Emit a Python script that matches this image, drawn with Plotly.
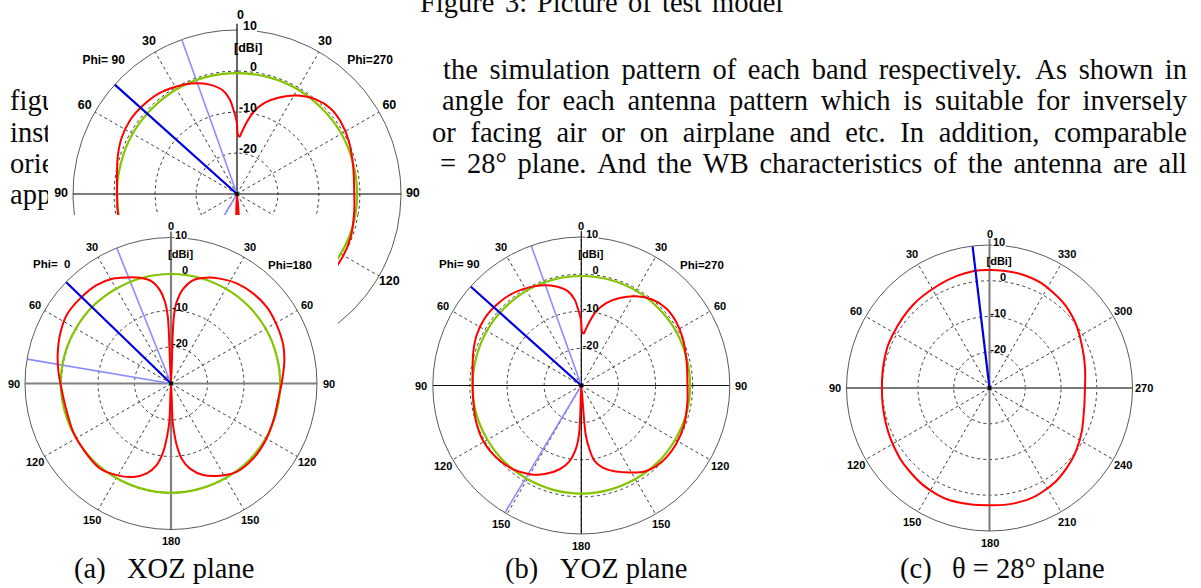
import math
import numpy as np
import plotly.graph_objects as go

W, H = 1201, 588

# ------------------------------------------------------------------
# DATA - gain in dBi versus angle in degrees
# ------------------------------------------------------------------
# (a) XOZ plane: left half = Phi 0, right half = Phi 180 (theta 0 at top)
xoz_phi0_theta = [0, 2.4, 2.8, 4.2, 6.7, 10.7, 16.4, 22.7, 28.8, 37.1, 47.0, 56.8, 66.5, 76.0,
                  84.1, 90.9, 101.6, 116.3, 128.5, 140.1, 149.3, 158.0, 164.9, 170.0, 173.6,
                  175.9, 177.5, 180]
xoz_phi0_gain = [-30, -16.7, -11.3, -7.6, -4.3, -1.5, 0.2, 1.5, 2.8, 3.8, 4.1, 4.2, 3.2, 2.0,
                 1.0, 0.2, -0.4, -0.1, 0.1, 0.35, -0.8, -2.4, -4.5, -7.3, -11.2, -15.8, -19.5, -30]
xoz_phi180_theta = [177.5, 176.4, 174.7, 171.9, 167.4, 160.6, 152.0, 143.4, 132.3, 119.9, 108.8,
                    98.0, 90.0, 79.2, 71.2, 61.1, 51.3, 42.5, 33.3, 25.0, 18.6, 12.2, 7.4, 4.0,
                    2.5, 2.0, 0]
xoz_phi180_gain = [-19.5, -16.7, -13.0, -9.2, -6.1, -3.4, -1.4, 0.15, 0.5, 0.2, -0.2, -0.3, 0.3,
                   1.6, 2.5, 3.1, 3.6, 3.4, 2.8, 1.7, 0.6, -1.0, -3.8, -7.6, -11.3, -16.7, -30]
xoz_total_theta = [0, 15, 30, 45, 60, 75, 90, 105, 120, 135, 150, 165, 180, 195, 210, 225, 240,
                   255, 270, 285, 300, 315, 330, 345, 360]
xoz_total_gain = [0.0, 0.0, 0.0, 0.1, 0.1, 0.2, 0.2, 0.1, 0.0, 0.0, -0.1, -0.1, -0.05, -0.1,
                  -0.1, 0.0, 0.0, -0.1, -0.1, -0.1, 0.0, 0.0, 0.0, 0.0, 0.0]
xoz_main_beam = 46.0
xoz_beam_edges = [21.8, 80.4]

# (b) YOZ plane: left half = Phi 90, right half = Phi 270
yoz_phi90_theta = [0, 1.0, 2.5, 4.4, 8.0, 14.1, 22.6, 29.4, 38.2, 46.4, 55.0, 64.1, 72.4, 80.8,
                   90.0, 98.2, 108.6, 119.5, 130.4, 140.9, 149.9, 157.6, 165.5, 171.2, 175.4,
                   177.3, 178.0, 180]
yoz_phi90_gain = [-12.9, -11.2, -9.3, -6.8, -4.4, -2.5, -0.8, 0.1, 1.1, 1.5, 1.7, 1.3, 0.5, -0.35,
                  -0.75, -0.6, -0.05, 0.35, 0.0, -0.9, -2.4, -4.2, -6.7, -9.4, -13.2, -16.8,
                  -22.2, -30]
yoz_phi270_theta = [175.4, 174.9, 173.0, 170.0, 163.4, 151.0, 142.8, 132.8, 121.8, 110.7, 98.4,
                    90.0, 77.0, 64.9, 55.9, 47.6, 39.8, 31.6, 23.6, 16.8, 11.4, 7.4, 4.4, 2.6,
                    0.7, 0]
yoz_phi270_gain = [-22.2, -16.8, -13.1, -9.4, -6.5, -3.2, -1.1, -0.1, 0.0, -0.35, -1.1, -1.4,
                   -0.9, 0.15, 0.8, 0.9, 0.05, -1.8, -4.3, -6.8, -9.6, -12.6, -14.9, -16.0,
                   -15.4, -12.9]
yoz_total_theta = xoz_total_theta
yoz_total_gain = [-0.5, -0.5, -0.5, -0.6, -0.6, -0.7, -0.7, -0.7, -0.8, -0.8, -0.9, -0.9, -0.9,
                  -0.9, -0.9, -0.8, -0.8, -0.7, -0.7, -0.7, -0.6, -0.6, -0.5, -0.5, -0.5]
yoz_main_beam = 48.2
yoz_beam_edges = [19.7, 149.0]

# (c) theta = 28 deg plane: phi counter-clockwise from top
p28_phi = [0, 8, 16.5, 25.7, 42.5, 61, 74, 90, 106, 120.5, 136.3, 153.6, 167.1, 180, 193.2,
           207.4, 223.9, 241, 255, 270, 282, 293.3, 309.9, 326.2, 341.7, 360]
p28_gain = [3.0, 3.0, 2.65, 2.15, 1.6, 0.9, 0.5, 0.1, 0.5, 1.3, 2.3, 3.2, 3.1, 2.8, 3.0, 2.6,
            1.1, -1.0, -2.7, -3.3, -2.7, -1.7, 0.5, 2.1, 3.0, 3.0]
p28_main_beam = 6.8

# axis ticks / labels
radial_range = [-30, 10]
radial_rings = [-20, -10, 0]
radial_labels = [-20, -10, 0, 10]
angle_ticks = list(range(0, 360, 30))
half_cut_labels = ['0', '30', '60', '90', '120', '150', '180', '150', '120', '90', '60', '30']
full_cut_labels = [str(a) for a in angle_ticks]
phi_names_a = ['Phi=\u00a0\u00a00', 'Phi=180']
phi_names_b = ['Phi=\u00a090', 'Phi=270']

# page text
caption_top_words = ['Figure', '3:', 'Picture', 'of', 'test', 'model']
para_right_lines = [
    'the simulation pattern of each band respectively. As shown in',
    'angle for each antenna pattern which is suitable for inversely',
    'or facing air or on airplane and etc. In addition, comparable',
    '= 28\u00b0 plane. And the WB characteristics of the antenna are all',
]
para_left_words = ['figure', 'install', 'orient', 'appl']
sub_captions = [('(a)', 'XOZ plane'), ('(b)', 'YOZ plane'), ('(c)', '\u03b8 = 28\u00b0 plane')]

# ------------------------------------------------------------------
# styling / layout constants
# ------------------------------------------------------------------
SERIF = 'Liberation Serif, Times New Roman, serif'
LBL = 'Liberation Sans, Arial, sans-serif'
FS = 28.5
RED = '#ff0000'
GREEN = '#84c400'
DBLUE = '#0000dc'
LBLUE = '#8c8cff'
GRID = '#3c3c3c'
DASH = '3px,3px'

# Times metrics (per 1000 em) for justified text placement
TNR = {' ': 250, '=': 564, '\u00b0': 400, '.': 250, ',': 250, ':': 278, '(': 333, ')': 333,
       '\u03b8': 500, 'A': 722, 'B': 667, 'F': 556, 'I': 333, 'P': 556, 'W': 944, 'X': 722,
       'Y': 722, 'O': 722, 'Z': 611, 'a': 444, 'b': 500, 'c': 444, 'd': 500, 'e': 444,
       'f': 333, 'g': 500, 'h': 500, 'i': 278, 'j': 278, 'k': 500, 'l': 278, 'm': 778,
       'n': 500, 'o': 500, 'p': 500, 'q': 500, 'r': 333, 's': 389, 't': 278, 'u': 500,
       'v': 500, 'w': 722, 'x': 500, 'y': 500, 'z': 444}


def text_w(s, fs=FS):
    return sum(TNR.get(c, 500) for c in s) * fs / 1000.0


def justify(words, x0, x1, fs=FS):
    ws = [text_w(w, fs) for w in words]
    gap = (x1 - x0 - sum(ws)) / (len(words) - 1)
    xs, x = [], x0
    for w in ws:
        xs.append(x)
        x += w + gap
    return xs


fig = go.Figure()
annotations = []
shapes = []


def add_words(words, xs, baseline, fs=FS):
    fig.add_trace(go.Scatter(
        x=xs, y=[baseline - 0.25 * fs] * len(xs), mode='text', text=words,
        textposition='middle right', textfont=dict(family=SERIF, size=fs, color='#0a0a0a'),
        xaxis='x', yaxis='y', hoverinfo='skip', showlegend=False))


# ---- page text (subplot xy covers the whole page) ----
for w, x in zip(caption_top_words, justify(caption_top_words, 419, 782)):
    annotations.append(dict(x=x / W, y=1 - (12 - 0.3375 * FS) / H, xref='paper', yref='paper',
                            text=w, showarrow=False, xanchor='left', yanchor='middle',
                            borderpad=0, font=dict(family=SERIF, size=FS, color='#0a0a0a')))
right_x0 = [443, 442, 432, 440]
right_x1 = [1187, 1187, 1187, 1187]
right_base = [78.5, 109.5, 141.7, 173.2]
for line, x0, x1, b in zip(para_right_lines, right_x0, right_x1, right_base):
    words = line.split(' ')
    add_words(words, justify(words, x0, x1), b)
for w, b in zip(para_left_words, [109.5, 141.7, 173.2, 204]):
    add_words([w], [10], b)
cap_x = [(74, 127), (505, 560), (900, 952)]
for (p, t), (xa, xb) in zip(sub_captions, cap_x):
    add_words([p, t], [xa, xb], 578)


# ------------------------------------------------------------------
# helpers to combine the two half cuts into one closed curve
# ------------------------------------------------------------------
def combine(lt, lg, rt, rg):
    th = list(lt) + [360 - t for t in rt]
    g = list(lg) + list(rg)
    return th, g


xoz_th, xoz_g = combine(xoz_phi0_theta, xoz_phi0_gain, xoz_phi180_theta, xoz_phi180_gain)
yoz_th, yoz_g = combine(yoz_phi90_theta, yoz_phi90_gain, yoz_phi270_theta, yoz_phi270_gain)


# ------------------------------------------------------------------
# polar subplots (bottom row)
# ------------------------------------------------------------------
def polar_label_trace(sub, r, th, txt, pos, size=11):
    return go.Scatterpolar(r=r, theta=th, mode='text', text=txt, textposition=pos,
                           textfont=dict(family=LBL, size=size, color='black', weight='bold'),
                           cliponaxis=False, subplot=sub, hoverinfo='skip', showlegend=False)


def px_to_polar(dx, dy_up, R):
    pxdb = R / 40.0
    d = math.hypot(dx, dy_up)
    return -30 + d / pxdb, (math.degrees(math.atan2(-dx, dy_up))) % 360


def label_annot(px, py, text, xanchor, size=11, bg=None):
    a = dict(x=px / W, y=1 - py / H, xref='paper', yref='paper', text=text, showarrow=False,
             xanchor=xanchor, yanchor='middle', borderpad=0,
             font=dict(family=LBL, size=size, color='black', weight='bold'))
    if bg:
        a['bgcolor'] = bg
    annotations.append(a)


def add_polar(sub, C, labels, red_th, red_g, green_th, green_g, main_beam, beam_edges,
              cross_col, cross_w, phi_names, phi_pos, smooth=0.9):
    cx, cy, R = C
    common = dict(subplot=sub, hoverinfo='skip', showlegend=False)
    # cross lines
    fig.add_trace(go.Scatterpolar(r=[10, -30, 10], theta=[0, 0, 180], mode='lines',
                                  line=dict(color=cross_col, width=cross_w), **common))
    fig.add_trace(go.Scatterpolar(r=[10, -30, 10], theta=[90, 90, 270], mode='lines',
                                  line=dict(color=cross_col, width=cross_w), **common))
    shapes.append(dict(type='line', xref='paper', yref='paper', x0=cx / W, x1=cx / W,
                       y0=1 - (cy - R) / H, y1=1 - (cy - R - 6) / H,
                       line=dict(color=cross_col, width=cross_w)))
    # beam edge lines (light blue)
    if beam_edges:
        rr, tt = [], []
        for b in beam_edges:
            rr += [-30, 10, None]
            tt += [b, b, None]
        fig.add_trace(go.Scatterpolar(r=rr, theta=tt, mode='lines',
                                      line=dict(color=LBLUE, width=1.6), **common))
    if green_th is not None:
        fig.add_trace(go.Scatterpolar(r=green_g, theta=green_th, mode='lines',
                                      line=dict(color=GREEN, width=2.2, shape='spline'),
                                      **common))
    fig.add_trace(go.Scatterpolar(r=red_g, theta=red_th, mode='lines',
                                  line=dict(color=RED, width=2, shape='spline', smoothing=smooth),
                                  **common))
    fig.add_trace(go.Scatterpolar(r=[-30, 10], theta=[main_beam, main_beam], mode='lines',
                                  line=dict(color=DBLUE, width=2.2), **common))
    fig.add_trace(go.Scatterpolar(r=[-30], theta=[0], mode='markers',
                                  marker=dict(color='black', size=4), **common))
    # angular labels: centred ~11.5 px outside the outer circle
    for a, txt in zip(angle_ticks, labels):
        d = R + 11.5
        label_annot(cx - d * math.sin(math.radians(a)), cy - d * math.cos(math.radians(a)),
                    txt, 'center')
    # radial labels: right-aligned just right of the vertical axis
    sc = R / 146.0
    rr, tt = [], []
    for v in radial_labels[:-1]:
        r, t = px_to_polar(17 * sc, (v + 30) * R / 40.0 + 2.5, R)
        rr.append(r)
        tt.append(t)
    fig.add_trace(polar_label_trace(sub, rr, tt, [str(v) for v in radial_labels[:-1]],
                                    'middle left'))
    label_annot(cx + 17 * sc, cy - R - 3, str(radial_labels[-1]), 'right', bg='white')
    r, t = px_to_polar(-3, 35.2 * R / 40.0, R)
    fig.add_trace(polar_label_trace(sub, [r], [t], ['[dBi]'], 'middle right'))
    if phi_names:
        for name, (rv, ph) in zip(phi_names, phi_pos):
            d = (rv + 30) * R / 40.0
            label_annot(cx - d * math.sin(math.radians(ph)), cy - d * math.cos(math.radians(ph)),
                        name, 'center', size=11.5)


def polar_layout(C):
    cx, cy, R = C
    return dict(
        domain=dict(x=[(cx - R) / W, (cx + R) / W], y=[1 - (cy + R) / H, 1 - (cy - R) / H]),
        bgcolor='rgba(0,0,0,0)',
        angularaxis=dict(rotation=90, direction='counterclockwise', tickmode='array',
                         tickvals=angle_ticks, showticklabels=False, showline=True,
                         linecolor='#5a5a5a', linewidth=1, showgrid=True, gridcolor=GRID,
                         gridwidth=1, griddash=DASH, ticks=''),
        radialaxis=dict(range=radial_range, tickmode='array', tickvals=radial_rings,
                        showgrid=True, gridcolor=GRID, gridwidth=1, griddash=DASH,
                        showline=False, showticklabels=False, ticks=''),
    )


A_C = (171, 383.5, 146)
B_C = (581.3, 385.5, 148.5)
C_C = (989.5, 388, 143)

add_polar('polar', A_C, half_cut_labels, xoz_th, xoz_g, xoz_total_theta, xoz_total_gain,
          xoz_main_beam, xoz_beam_edges, '#808080', 2.2, phi_names_a, [(16.2, 45), (16.1, 315)])
add_polar('polar2', B_C, half_cut_labels, yoz_th, yoz_g, yoz_total_theta, yoz_total_gain,
          yoz_main_beam, yoz_beam_edges, '#101010', 1.2, phi_names_b, [(16.4, 45), (15.9, 315)])
add_polar('polar3', C_C, full_cut_labels, p28_phi, p28_gain, None, None, p28_main_beam, None,
          '#7a7a7a', 2.0, None, None, smooth=1.25)

# ------------------------------------------------------------------
# top-left enlarged copy of the YOZ pattern (partly hidden, drawn on
# two clipped cartesian windows with the same scale)
# ------------------------------------------------------------------
TOP_CX, TOP_CY, TOP_R = 237, 194, 164
U = TOP_R / 40.0


def top_xy(theta, gain):
    t = np.radians(np.asarray(theta, float))
    rr = np.asarray(gain, float) + 30
    return -rr * np.sin(t), rr * np.cos(t)


def top_traces(xa, ya):
    out = []
    common = dict(xaxis=xa, yaxis=ya, hoverinfo='skip', showlegend=False, mode='lines')
    ring_t = np.radians(np.linspace(0, 360, 361))
    rx, ry = [], []
    for v in radial_rings:
        rr = v + 30
        rx += list(-rr * np.sin(ring_t)) + [None]
        ry += list(rr * np.cos(ring_t)) + [None]
    for a in [30, 60, 120, 150, 210, 240, 300, 330]:
        t = math.radians(a)
        rx += [0, -40 * math.sin(t), None]
        ry += [0, 40 * math.cos(t), None]
    out.append(go.Scatter(x=rx, y=ry, line=dict(color=GRID, width=1, dash=DASH), **common))
    # outer ring, left open under the "10" label
    arc_t = np.radians(np.linspace(0, 353.0, 354))
    out.append(go.Scatter(x=list(-40 * np.sin(arc_t)), y=list(40 * np.cos(arc_t)),
                          line=dict(color='#5a5a5a', width=1), **common))
    out.append(go.Scatter(x=[0, 0, None, -40, 40], y=[41.5, -40, None, 0, 0],
                          line=dict(color='black', width=1.2), **common))
    bx, by = [], []
    for b in yoz_beam_edges:
        x, y = top_xy([b, b], [-30, 10])
        bx += list(x) + [None]
        by += list(y) + [None]
    out.append(go.Scatter(x=bx, y=by, line=dict(color=LBLUE, width=1.6), **common))
    gx, gy = top_xy(yoz_total_theta, yoz_total_gain)
    out.append(go.Scatter(x=gx, y=gy, line=dict(color=GREEN, width=2.2, shape='spline'), **common))
    x, y = top_xy(yoz_th, yoz_g)
    out.append(go.Scatter(x=x, y=y, line=dict(color=RED, width=2, shape='spline', smoothing=0.9),
                          **common))
    x, y = top_xy([yoz_main_beam] * 2, [-30, 10])
    out.append(go.Scatter(x=x, y=y, line=dict(color=DBLUE, width=2.2), **common))
    out.append(go.Scatter(x=[0], y=[0], mode='markers', marker=dict(color='black', size=4),
                          xaxis=xa, yaxis=ya, hoverinfo='skip', showlegend=False))
    tcommon = dict(xaxis=xa, yaxis=ya, hoverinfo='skip', showlegend=False, mode='text')
    # angular labels
    ang = [0, 30, 60, 90, 120, 150, 210, 240, 270, 300, 330]
    ang_txt = [half_cut_labels[a // 30] for a in ang]
    lx = [-42.9 * math.sin(math.radians(a)) for a in ang]
    ly = [42.9 * math.cos(math.radians(a)) for a in ang]
    lx[0] += 3.5 / U
    ly[0] += 0.6
    out.append(go.Scatter(x=lx, y=ly, text=ang_txt, textposition='middle center',
                          textfont=dict(family=LBL, size=12.5, color='black', weight='bold'),
                          **tcommon))
    # radial labels
    out.append(go.Scatter(x=[20 / U] * 4, y=[v + 30 + 3 / U for v in radial_labels],
                          text=[str(v) for v in radial_labels], textposition='middle left',
                          textfont=dict(family=LBL, size=12.5, color='black', weight='bold'),
                          **tcommon))
    out.append(go.Scatter(x=[-3 / U], y=[35.4], text=['[dBi]'], textposition='middle right',
                          textfont=dict(family=LBL, size=12.5, color='black', weight='bold'),
                          **tcommon))
    out.append(go.Scatter(x=[-46 * math.sin(math.radians(45)), 45.9 * math.sin(math.radians(45))],
                          y=[46 * math.cos(math.radians(45)), 45.9 * math.cos(math.radians(45))],
                          text=phi_names_b, textposition='middle center',
                          textfont=dict(family=LBL, size=12, color='black', weight='bold'),
                          **tcommon))
    return out


for tr in top_traces('x2', 'y2') + top_traces('x3', 'y3'):
    fig.add_trace(tr)


def window_axes(px0, px1, py0, py1):
    xa = dict(domain=[px0 / W, px1 / W], range=[(px0 - TOP_CX) / U, (px1 - TOP_CX) / U],
              visible=False, fixedrange=True)
    ya = dict(domain=[1 - py1 / H, 1 - py0 / H], range=[(TOP_CY - py1) / U, (TOP_CY - py0) / U],
              visible=False, fixedrange=True)
    return xa, ya


xa2, ya2 = window_axes(48, 427, 0, 215)
xa3, ya3 = window_axes(338, 427, 215, 330)
xa2['anchor'] = 'y2'
ya2['anchor'] = 'x2'
xa3['anchor'] = 'y3'
ya3['anchor'] = 'x3'

fig.update_layout(
    width=W, height=H, autosize=False,
    margin=dict(l=0, r=0, t=0, b=0),
    paper_bgcolor='white', plot_bgcolor='#ffffff',
    showlegend=False,
    xaxis=dict(domain=[0, 1], range=[0, W], visible=False, fixedrange=True),
    yaxis=dict(domain=[0, 1], range=[H, 0], visible=False, fixedrange=True),
    xaxis2=xa2, yaxis2=ya2, xaxis3=xa3, yaxis3=ya3,
    polar=polar_layout(A_C),
    polar2=polar_layout(B_C),
    polar3=polar_layout(C_C),
    annotations=annotations,
    shapes=shapes,
)

fig.write_html('out.html')
